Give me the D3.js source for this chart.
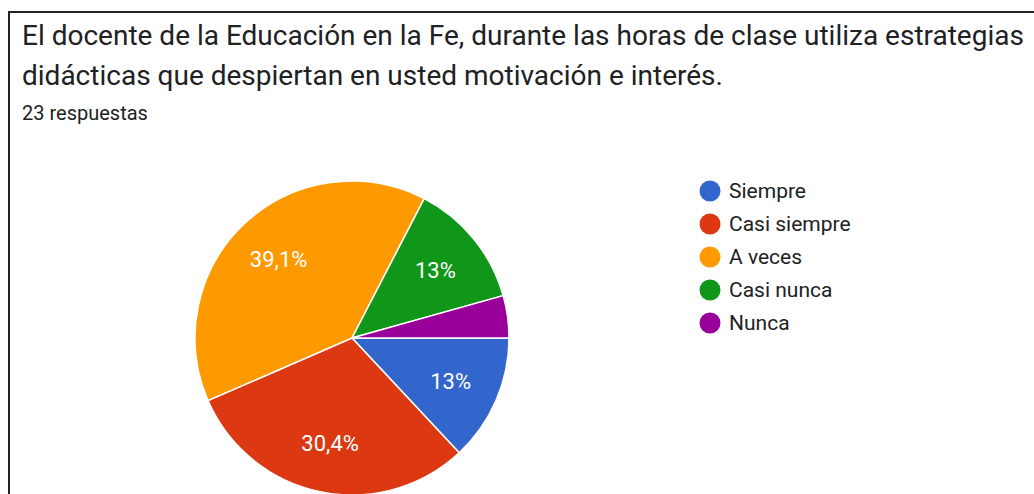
<!DOCTYPE html>
<html>
<head>
<meta charset="utf-8">
<script src="https://cdn.jsdelivr.net/npm/d3@7"></script>
<style>
  body { margin: 0; background: #fff; }
  text { font-family: Roboto, Arial, sans-serif; }
</style>
</head>
<body>
<div class="piechart"></div>
<script>
const categories = ["Siempre", "Casi siempre", "A veces", "Casi nunca", "Nunca"];
const counts = [3, 7, 9, 3, 1];
const pctLabels = ["13%", "30,4%", "39,1%", "13%", ""];
const colors = ["#3366cc", "#dc3912", "#ff9900", "#109618", "#990099"];
const titleLines = [
  "El docente de la Educación en la Fe, durante las horas de clase utiliza estrategias",
  "didácticas que despiertan en usted motivación e interés."
];
const subtitle = "23 respuestas";

const width = 1034, height = 494;

const svg = d3.select(".piechart")
  .append("svg")
    .attr("width", width)
    .attr("height", height);

// frame around the card
svg.append("path")
  .attr("d", "M9,494 V12 H1034")
  .attr("fill", "none")
  .attr("stroke", "#222")
  .attr("stroke-width", 2);

// title
svg.selectAll(".title")
  .data(titleLines)
  .enter()
  .append("text")
    .attr("class", "title")
    .attr("x", 22)
    .attr("y", (d, i) => 45 + i * 40)
    .attr("fill", "#202124")
    .style("font-size", "28px")
    .text(d => d);

svg.append("text")
  .attr("x", 22)
  .attr("y", 120)
  .attr("fill", "#202124")
  .style("font-size", "20px")
  .text(subtitle);

// pie
const cx = 352, cy = 338, r = 157;
const g = svg.append("g").attr("transform", "translate(" + cx + "," + cy + ")");

const pie = d3.pie()
  .sort(null)
  .value(d => d)
  .startAngle(Math.PI / 2)
  .endAngle(Math.PI / 2 + 2 * Math.PI);

const arcs = pie(counts);
const arc = d3.arc().innerRadius(0).outerRadius(r);
const labelArc = d3.arc().innerRadius(r * 0.685).outerRadius(r * 0.685);

g.selectAll("path")
  .data(arcs)
  .enter()
  .append("path")
    .attr("d", arc)
    .attr("fill", (d, i) => colors[i])
    .attr("stroke", "#fff")
    .attr("stroke-width", 1.5);

g.selectAll(".lbl")
  .data(arcs)
  .enter()
  .append("text")
    .attr("class", "lbl")
    .attr("transform", d => "translate(" + labelArc.centroid(d) + ")")
    .attr("text-anchor", "middle")
    .attr("dy", "0.35em")
    .attr("fill", "#fff")
    .style("font-size", "22px")
    .text((d, i) => pctLabels[i]);

// legend
const legend = svg.append("g")
  .selectAll("g")
  .data(categories)
  .enter()
  .append("g")
    .attr("transform", (d, i) => "translate(710," + (191 + i * 33) + ")");

legend.append("circle")
  .attr("r", 10.5)
  .attr("fill", (d, i) => colors[i]);

legend.append("text")
  .attr("x", 19)
  .attr("dy", "0.35em")
  .attr("fill", "#202124")
  .style("font-size", "21px")
  .text(d => d);
</script>
</body>
</html>
